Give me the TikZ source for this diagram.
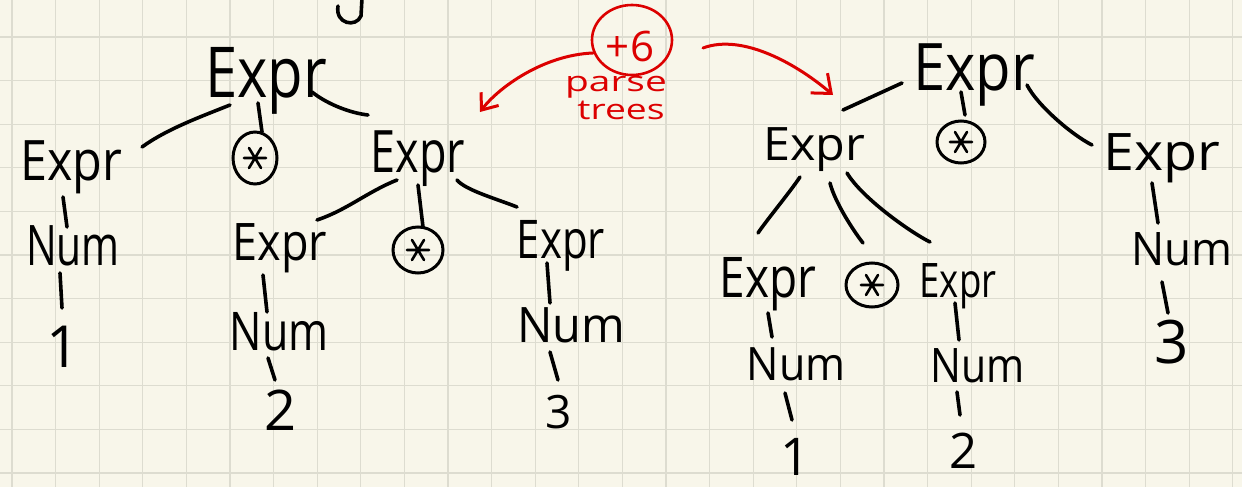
\documentclass[tikz,border=0pt]{standalone}
\usepackage{fontspec}
\setmainfont{Open Sans}
\usetikzlibrary{shapes.geometric,arrows.meta}
\definecolor{paper}{HTML}{F8F6EA}
\definecolor{gridln}{HTML}{DDDCD0}
\definecolor{inkred}{HTML}{DC0000}
% size, vertical stretch, text
\newcommand\hwtext[3]{{\fontsize{#1}{#1}\selectfont\scalebox{1}[#2]{#3}}}
\begin{document}
\begin{tikzpicture}[x=1pt,y=-1pt,
  ink/.style={line width=3.6pt,line cap=round,line join=round},
  redink/.style={draw=inkred,line width=3pt,line cap=round,line join=round},
  lbl/.style={inner sep=0pt,anchor=base},
  opnode/.style args={#1x#2}{draw,ellipse,line width=3pt,inner sep=0pt,
    minimum width=#1pt,minimum height=#2pt,
    path picture={\draw[line width=2.6pt,line cap=round]
      ([shift={(-11,0)}]path picture bounding box.center) -- ([shift={(11,0)}]path picture bounding box.center)
      ([shift={(-6,10)}]path picture bounding box.center) -- ([shift={(6,-10)}]path picture bounding box.center)
      ([shift={(6,10)}]path picture bounding box.center) -- ([shift={(-6,-10)}]path picture bounding box.center);}}
]
\useasboundingbox (0,0) rectangle (1242,487);
% squared paper
\fill[paper] (0,0) rectangle (1242,487);
\foreach \i in {0,...,28} \draw[gridln,line width=1.3pt] ({12+43.6*\i},0) -- ({12+43.6*\i},487);
\foreach \j in {0,...,10} \draw[gridln,line width=1.3pt] (0,{37+43.6*\j}) -- (1242,{37+43.6*\j});

% tail of a letter at the top edge
\draw[ink] (338,6) .. controls (335,24) and (356,28) .. (361,16) -- (362,-2);

% ---- first tree: 1 * (2 * 3)
\node[lbl] (A0) at (266,97) {\hwtext{58}{1.21}{Expr}};
\node[lbl] (A1) at (71,180) {\hwtext{48.5}{1.15}{Expr}};
\node[opnode=44x52] (As) at (255,158) {};
\node[lbl] (A2) at (418,172) {\hwtext{45}{1.3}{Expr}};
\node[lbl] (A1n) at (73,265) {\hwtext{40.8}{1.37}{Num}};
\node[lbl] (A1d) at (63,367) {\hwtext{58}{1}{1}};
\node[lbl] (A3) at (280,260) {\hwtext{45}{1.15}{Expr}};
\node[opnode=50x46] (Bs) at (418,250) {};
\node[lbl] (A4) at (561,258) {\hwtext{42}{1.27}{Expr}};
\node[lbl] (A3n) at (279,350) {\hwtext{43}{1.24}{Num}};
\node[lbl] (A3d) at (281,430) {\hwtext{56}{1}{2}};
\node[lbl] (A4n) at (571,342) {\hwtext{47}{1.04}{Num}};
\node[lbl] (A4d) at (559,428) {\hwtext{46}{1}{3}};

\draw[ink] ([shift={(-36,8)}]A0.base) .. controls +(-30,12) and +(25,-18) .. ([shift={(71,-33)}]A1.base);
\draw[ink] ([shift={(-8,6)}]A0.base) -- ([shift={(7,-26)}]As.center);
\draw[ink] ([shift={(46,-5)}]A0.base) .. controls +(15,12) and +(-18,-2) .. ([shift={(-50,-57)}]A2.base);
\draw[ink] ([shift={(-21,8)}]A2.base) .. controls +(-30,12) and +(30,-10) .. ([shift={(37,-40)}]A3.base);
\draw[ink] ([shift={(0,13)}]A2.base) -- ([shift={(5,-23)}]Bs.center);
\draw[ink] ([shift={(39,8)}]A2.base) .. controls +(8,10) and +(-20,-8) .. ([shift={(-44,-51)}]A4.base);
\draw[ink] ([shift={(-8,17)}]A1.base) -- ([shift={(-6,-38)}]A1n.base);
\draw[ink] ([shift={(-13,8)}]A1n.base) -- ([shift={(-1,-59)}]A1d.base);
\draw[ink] ([shift={(-17,15)}]A3.base) -- ([shift={(-12,-38)}]A3n.base);
\draw[ink] ([shift={(-11,8)}]A3n.base) -- ([shift={(-6,-50)}]A3d.base);
\draw[ink] ([shift={(-14,5)}]A4.base) -- ([shift={(-21,-39)}]A4n.base);
\draw[ink] ([shift={(-21,10)}]A4n.base) -- ([shift={(-1,-48)}]A4d.base);

% ---- second tree: (1 * 2) * 3
\node[lbl] (B0) at (974,90) {\hwtext{58}{1.13}{Expr}};
\node[lbl] (B1) at (814,160) {\hwtext{48.5}{0.95}{Expr}};
\node[opnode=48x42] (Cs) at (961,142) {};
\node[lbl] (B2) at (1162,170) {\hwtext{55.6}{0.93}{Expr}};
\node[lbl] (B3) at (768,297) {\hwtext{46}{1.22}{Expr}};
\node[opnode=52x44] (Ds) at (872,285) {};
\node[lbl] (B4) at (958,297) {\hwtext{36.6}{1.3}{Expr}};
\node[lbl] (B3n) at (796,380) {\hwtext{43}{1.07}{Num}};
\node[lbl] (B3d) at (795,475) {\hwtext{52}{1}{1}};
\node[lbl] (B4n) at (978,382) {\hwtext{41}{1.16}{Num}};
\node[lbl] (B4d) at (963,468) {\hwtext{49}{1}{2}};
\node[lbl] (B2n) at (1182,265) {\hwtext{44}{1.05}{Num}};
\node[lbl] (B2d) at (1172,363) {\hwtext{60}{1}{3}};

\draw[ink] ([shift={(-72,-7)}]B0.base) -- ([shift={(29,-50)}]B1.base);
\draw[ink] ([shift={(-13,2)}]B0.base) -- ([shift={(4,-27)}]Cs.center);
\draw[ink] ([shift={(53,-5)}]B0.base) .. controls +(10,20) and +(-20,-10) .. ([shift={(-70,-25)}]B2.base);
\draw[ink] ([shift={(-14,17)}]B1.base) .. controls +(-10,15) and +(8,-12) .. ([shift={(-10,-64)}]B3.base);
\draw[ink] ([shift={(16,23)}]B1.base) .. controls +(5,20) and +(-8,-10) .. ([shift={(-9,-42)}]Ds.center);
\draw[ink] ([shift={(33,13)}]B1.base) .. controls +(15,25) and +(-20,-10) .. ([shift={(-28,-55)}]B4.base);
\draw[ink] ([shift={(0,16)}]B3.base) -- ([shift={(-24,-43)}]B3n.base);
\draw[ink] ([shift={(-11,13)}]B3n.base) -- ([shift={(-3,-55)}]B3d.base);
\draw[ink] ([shift={(-3,6)}]B4.base) -- ([shift={(-19,-42)}]B4n.base);
\draw[ink] ([shift={(-21,10)}]B4n.base) -- ([shift={(-3,-53)}]B4d.base);
\draw[ink] ([shift={(-10,13)}]B2.base) -- ([shift={(-24,-42)}]B2n.base);
\draw[ink] ([shift={(-20,17)}]B2n.base) -- ([shift={(-4,-50)}]B2d.base);

% ---- red note between the trees
\node[draw=inkred,ellipse,line width=2.6pt,inner sep=0pt,minimum width=80pt,minimum height=70pt] (R) at (632,40) {};
\node[lbl,text=inkred] (Rt) at (630,62) {\hwtext{42}{1}{+6}};
\node[lbl,text=inkred] (P1) at (616,92) {\fontsize{28}{28}\selectfont\scalebox{1.39}[1]{parse}};
\node[lbl,text=inkred] (P2) at (621,119) {\fontsize{28}{28}\selectfont\scalebox{1.33}[1]{trees}};
\draw[redink,-{Straight Barb[length=14pt,width=22pt]}] ([shift={(-39,13)}]R.center) .. controls +(-50,2) and +(18,-24) .. ([shift={(62,-60)}]A2.base);
\draw[redink,-{Straight Barb[length=16pt,width=26pt]}] ([shift={(71,8)}]R.center) .. controls +(40,-15) and +(-35,-30) .. ([shift={(19,-65)}]B1.base);
\end{tikzpicture}
\end{document}
